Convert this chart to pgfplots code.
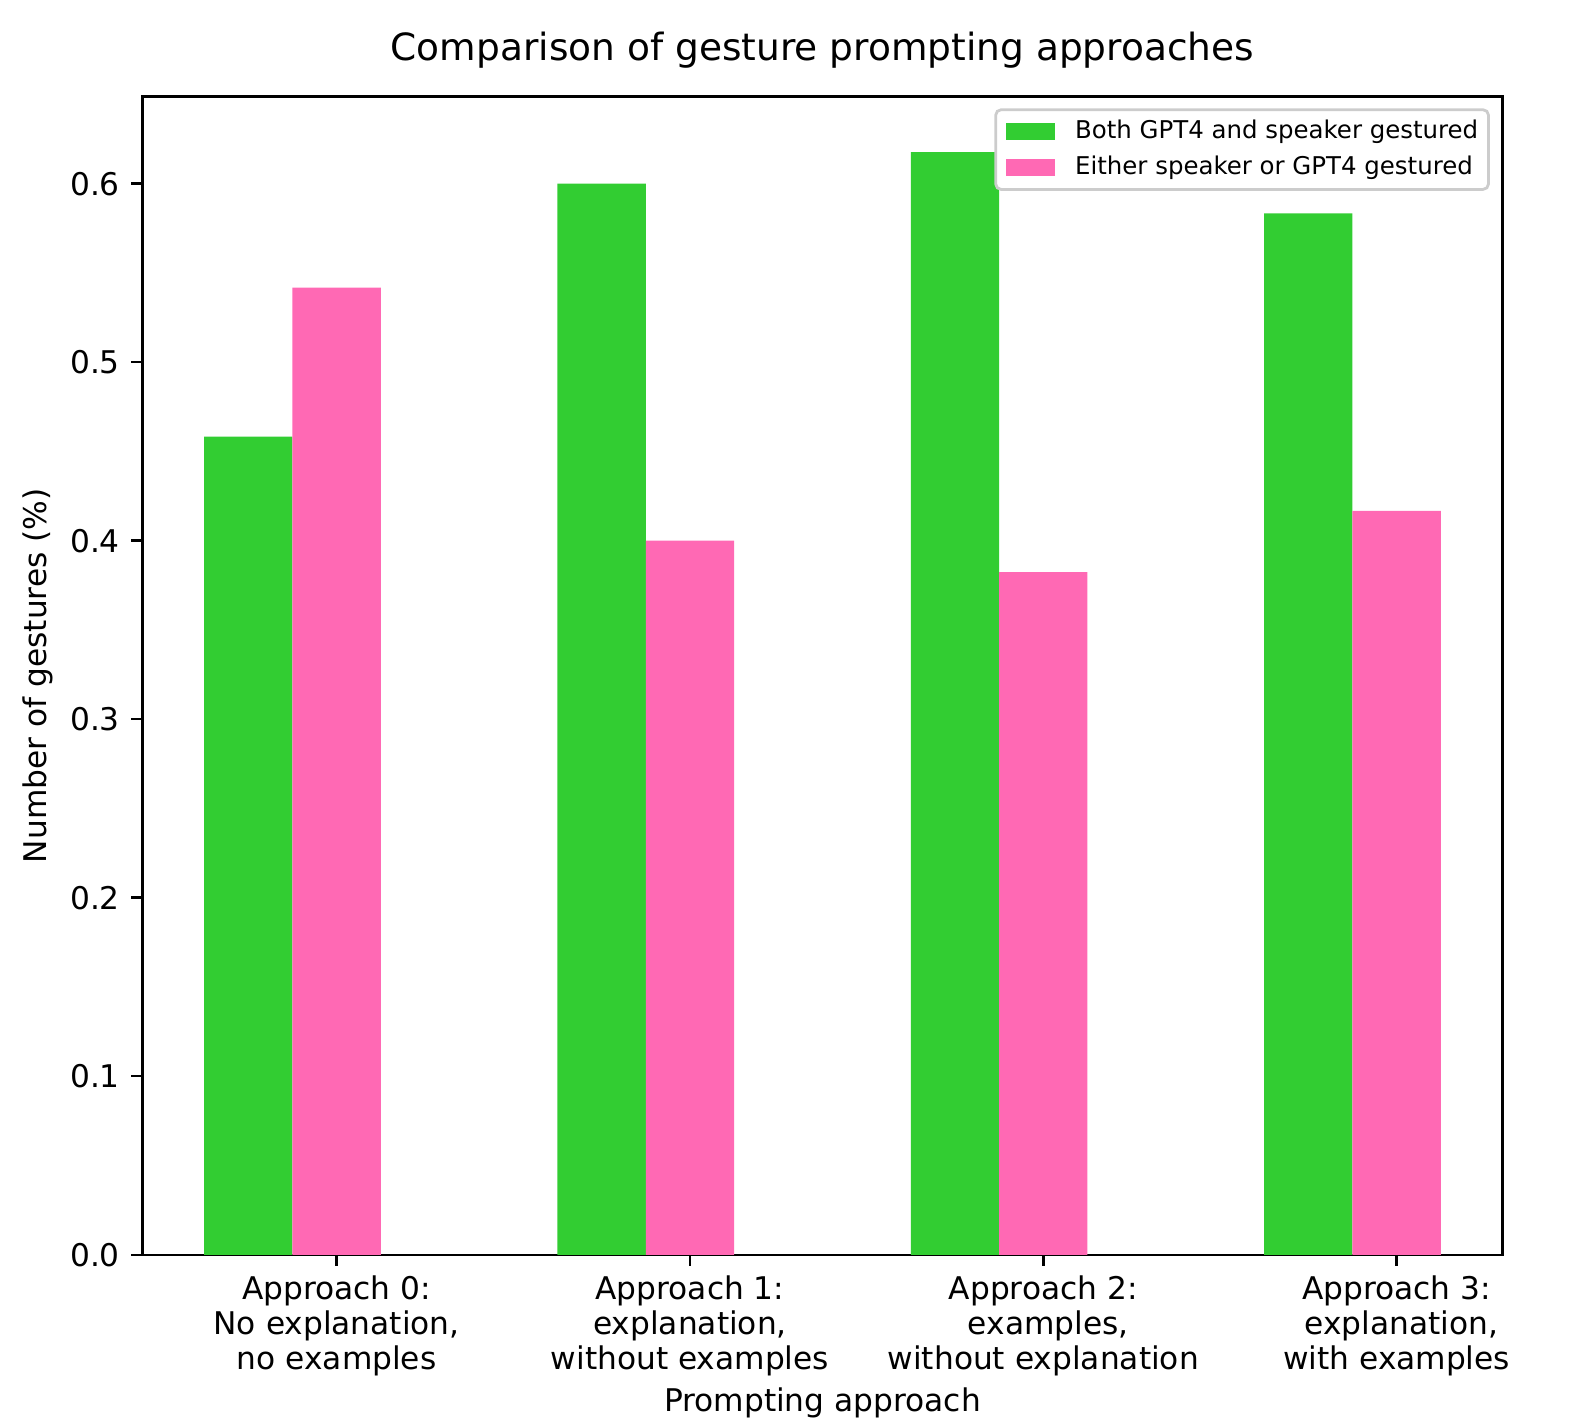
\documentclass[border=0pt]{standalone}
\usepackage{pgfplots}
\pgfplotsset{compat=1.18}
\usepackage{fontspec}
\setmainfont{DejaVu Sans}
\definecolor{lg}{HTML}{32CD32}
\definecolor{hp}{HTML}{FF69B4}
\begin{document}
\begin{tikzpicture}
\begin{axis}[
  at={(0,0)}, anchor=south west,
  width=489.7pt, height=416.9pt, scale only axis,
  xmin=-0.55, xmax=3.3, ymin=0, ymax=0.6487,
  axis line style={line width=0.9pt},
  tick style={line width=0.9pt, black},
  major tick length=3.94pt,
  tick align=outside,
  xtick={0,1,2,3},
  xtick pos=bottom, ytick pos=left,
  xticklabels={{Approach 0:\\No explanation,\\no examples},
               {Approach 1:\\explanation,\\without examples},
               {Approach 2:\\\ examples,\\without explanation},
               {Approach 3:\\\ explanation,\\with examples}},
  xticklabel style={align=center, font=\fontsize{11.25}{12.6}\selectfont, inner sep=0pt, yshift=-3.34pt},
  ytick={0,0.1,0.2,0.3,0.4,0.5,0.6},
  yticklabel style={/pgf/number format/fixed, /pgf/number format/precision=1, /pgf/number format/fixed zerofill, font=\fontsize{11.25}{13.5}\selectfont, inner sep=0pt, xshift=-3.94pt},
  /pgf/number format/assume math mode=true,
  title={Comparison of gesture prompting approaches},
  title style={at={(axis description cs:0.5,1)}, anchor=base, yshift=7.2pt, font=\fontsize{13.5}{16}\selectfont},
  xlabel={Prompting approach},
  ylabel={Number of gestures (\%)},
  every axis x label/.style={at={(axis description cs:0.5,0)}, anchor=base, yshift=-56.6pt, font=\fontsize{11.25}{13.5}\selectfont},
  every axis y label/.style={at={(axis description cs:-0.0766,0.5)}, anchor=center, rotate=90, font=\fontsize{11.25}{13.5}\selectfont},
  legend style={at={(axis description cs:1,1)}, anchor=north east, xshift=-4.57pt, yshift=-4.18pt,
    draw=black!20, line width=1pt, rounded corners=2pt, fill=white,
    font=\fontsize{8.8}{10.5}\selectfont, row sep=0pt, column sep=0pt,
    inner xsep=3.7pt, inner ysep=1.4pt, nodes={inner sep=0pt}},
  legend cell align=left,
]
\addplot[ybar, bar width=0.25, bar shift=0pt, fill=lg, draw=none,
  legend image code/.code={\fill[lg, sharp corners] (0pt,-3.1pt) rectangle (17.6pt,3.1pt); \path (0pt,-6.48pt) (24.9pt,6.48pt);}]
  coordinates {(-0.25,0.4583) (0.75,0.6000) (1.75,0.6176) (2.75,0.5833)};
\addlegendentry{Both GPT4 and speaker gestured}
\addplot[ybar, bar width=0.25, bar shift=0pt, fill=hp, draw=none,
  legend image code/.code={\fill[hp, sharp corners] (0pt,-3.1pt) rectangle (17.6pt,3.1pt); \path (0pt,-6.48pt) (24.9pt,6.48pt);}]
  coordinates {(0,0.5417) (1,0.4000) (2,0.3824) (3,0.4167)};
\addlegendentry{Either speaker or GPT4 gestured}
\end{axis}
\pgfresetboundingbox
\path[use as bounding box] (-51.23pt,-59.87pt) rectangle (516.49pt,451.71pt);
\end{tikzpicture}
\end{document}
